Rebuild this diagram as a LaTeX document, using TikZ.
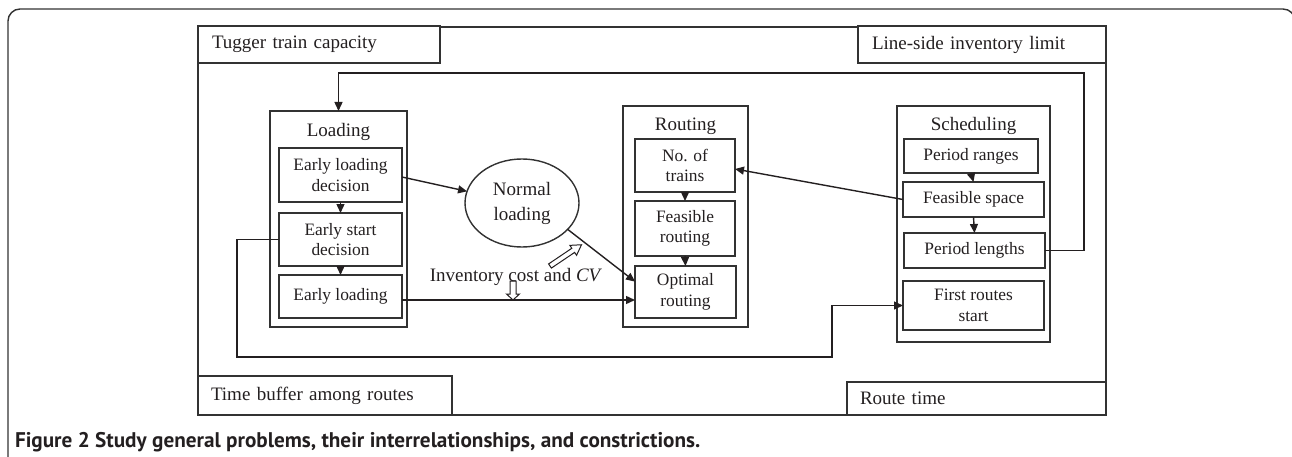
\documentclass[tikz,border=0pt]{standalone}
\usepackage{fontspec}
\setmainfont{Liberation Serif}
\newfontfamily\capfont{PT Sans}
\usetikzlibrary{arrows.meta,calc,shapes.geometric}
\definecolor{ink}{RGB}{35,31,32}
\definecolor{edge}{RGB}{50,50,50}
\begin{document}
\begin{tikzpicture}[x=1pt,y=-1pt,
  every node/.style={inner sep=0pt, outer sep=0pt, text=ink},
  frameline/.style={draw=edge, line width=1.4pt},
  cons/.style={draw=edge, line width=1.4pt, fill=white, align=left, inner xsep=14pt,
     font=\fontsize{19}{21}\selectfont},
  grp/.style={draw=edge, line width=1.4pt},
  ibox/.style={draw=edge, line width=1.4pt, align=center, font=\fontsize{17.4}{20.5}\selectfont},
  ttl/.style={anchor=base, font=\fontsize{19}{21}\selectfont},
  arr/.style={draw=ink, line width=1.4pt, -{Triangle[length=9pt,width=8pt]}},
  hollow/.style={draw=ink, line width=1pt}
]
\useasboundingbox (0,0) rectangle (1292,457);
% figure frame
\draw[frameline, rounded corners=12pt] (8,480) -- (8,9) -- (1295,9) -- (1295,480);
% constraint container
\draw[grp] (198,27) rectangle (1106,415);
% constraint boxes
\node[cons, minimum width=242pt, minimum height=37pt, text width=214pt] (tug) at (319,44.5) {Tugger train capacity};
\node[cons, minimum width=248pt, minimum height=37pt, text width=220pt] (lsi) at (982,44.5) {Line-side inventory limit};
\node[cons, minimum width=254pt, minimum height=39pt, inner xsep=13pt, text width=228pt] (tbuf) at (325,395.5) {Time buffer among routes};
\node[cons, minimum width=259pt, minimum height=33pt, inner xsep=13pt, text width=233pt] (rt) at (976.5,398.5) {Route time};
% groups
\node[grp, minimum width=137pt, minimum height=216pt] (loadg) at (338.5,219) {};
\node[ttl] (loadt) at (338.5,137) {Loading};
\node[grp, minimum width=125pt, minimum height=221pt] (routg) at (685.5,216.5) {};
\node[ttl] (routt) at (685.5,131) {Routing};
\node[grp, minimum width=153pt, minimum height=236pt] (schg) at (973.5,224) {};
\node[ttl] (scht) at (973.5,131) {Scheduling};
% loading boxes
\node[ibox, minimum width=123pt, minimum height=54pt] (eld) at (340.5,175) {Early loading\\decision};
\node[ibox, minimum width=123pt, minimum height=53pt] (esd) at (340.5,239.5) {Early start\\decision};
\node[ibox, minimum width=123pt, minimum height=43pt] (el) at (340.5,296.5) {Early loading};
% routing boxes
\node[ibox, minimum width=100pt, minimum height=53pt] (not) at (685,165.5) {No. of\\trains};
\node[ibox, minimum width=100pt, minimum height=55pt] (fr) at (685,228.5) {Feasible\\routing};
\node[ibox, minimum width=101pt, minimum height=52pt] (opr) at (685.5,292) {Optimal\\routing};
% scheduling boxes
\node[ibox, minimum width=134pt, minimum height=34pt] (pr) at (971,156) {Period ranges};
\node[ibox, minimum width=141pt, minimum height=35pt] (fs) at (973.5,199.5) {Feasible space};
\node[ibox, minimum width=141pt, minimum height=35pt] (pl) at (974.5,250.5) {Period lengths};
\node[ibox, minimum width=141pt, minimum height=49pt] (frs) at (973.5,305.5) {First routes\\start};
% normal loading
\node[ellipse, draw=edge, line width=1.4pt, minimum width=114pt, minimum height=88pt, align=center,
  font=\fontsize{19}{25}\selectfont] (nl) at (522,203) {Normal\\loading};
% label
\node[anchor=base, font=\fontsize{19}{21}\selectfont] (inv) at (516,281) {Inventory cost and \textit{CV}};
% internal arrows
\draw[arr] (eld.south) -- (esd.north);
\draw[arr] (esd.south) -- (el.north);
\draw[arr] (not.south) -- (fr.north);
\draw[arr] (fr.south) -- (opr.north);
\draw[arr] (pr.south) -- (fs.north);
\draw[arr] (fs.south) -- (pl.north);
% cross arrows
\draw[arr] ([yshift=-2pt]eld.east) -- (nl.168);
\draw[arr] (nl.-30) -- ($(opr.north west)!0.3!(opr.south west)$);
\draw[arr] ([yshift=-3.5pt]el.east) -- ([yshift=-3.5pt]el.east -| opr.west);
\draw[arr] (fs.west) -- ([yshift=-3.5pt]not.east);
\coordinate (fb) at (1084,73);
\draw[arr] (pl.east) -| (fb) -| (loadg.north);
\coordinate (c1) at (237,357);
\coordinate (c2) at (832,357);
\draw[arr] (esd.west) -| (c1) -- (c2) |- (frs.west);
% hollow arrows
\begin{scope}[shift={(550,266)}, rotate=34]
\draw[hollow] (0pt,-2.5pt) -- (28pt,-2.5pt) -- (28pt,-6pt) -- (38pt,0pt) -- (28pt,6pt) -- (28pt,2.5pt) -- (0pt,2.5pt) -- cycle;
\end{scope}
\begin{scope}[shift={(513,281)}, rotate=-90]
\draw[hollow] (0pt,-3pt) -- (13pt,-3pt) -- (13pt,-6.5pt) -- (19pt,0pt) -- (13pt,6.5pt) -- (13pt,3pt) -- (0pt,3pt) -- cycle;
\end{scope}
% caption
\node[anchor=base west, font=\capfont\bfseries\fontsize{21.2}{23}\selectfont] (cap) at (15,447) {Figure 2 Study general problems, their interrelationships, and constrictions.};
\end{tikzpicture}
\end{document}
